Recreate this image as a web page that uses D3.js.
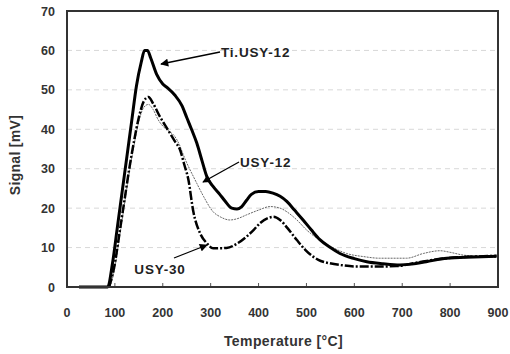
<!DOCTYPE html>
<html><head><meta charset="utf-8">
<script src="https://cdn.jsdelivr.net/npm/d3@7"></script>
<style>body{margin:0;background:#fff}svg{display:block}text{font-family:Arial,"Liberation Sans",sans-serif}</style>
</head><body><svg id="c" width="510" height="354"></svg>
<script>
const xTicks = [0,100,200,300,400,500,600,700,800,900];
const yTicks = [0,10,20,30,40,50,60,70];
const tiUsy12 = [[25,0],[85,0],[95,6],[105,15],[115,24],[125,33],[135,42],[145,51],[155,57],[162,60],[168,60],[175,58],[187,54],[200,51.5],[210,50.5],[225,48.7],[240,46],[250,43],[260,40],[271,36.5],[282,32],[292,28],[305,25.5],[319,23.5],[330,21.8],[344,20],[355,19.8],[365,20.4],[375,22],[385,23.5],[400,24.2],[415,24.2],[430,23.8],[445,23],[459,21.7],[475,19.5],[493,17],[510,14.5],[528,12],[550,10],[570,8.5],[600,7.2],[626,6.4],[660,5.9],[695,5.6],[720,5.8],[750,6.4],[793,7.3],[850,7.6],[897,7.8]];
const usy12 = [[90,0],[100,5],[110,13],[120,21],[130,29],[140,36],[150,42],[160,45.5],[170,46.3],[180,45],[190,42.5],[201,40.7],[213,39.5],[225,38.2],[235,36],[243,33.5],[250,31.5],[257,29.7],[264,28],[271,26.3],[285,23],[305,19.1],[320,17.8],[340,17],[355,17.3],[375,18.3],[400,19.5],[424,20.4],[445,20],[460,19],[480,17],[500,14.5],[528,11.9],[555,10],[584,8.5],[620,7.7],[653,7.3],[709,7.3],[744,8.5],[779,9.2],[800,8.8],[827,8.1],[860,7.8],[897,7.5]];
const usy30 = [[88,0],[100,6],[110,14],[120,22],[130,30],[140,37],[150,43],[160,47],[170,48.2],[180,46.5],[194,43.2],[205,41],[215,39],[225,37],[236,34.8],[245,31],[253,27.5],[264,19],[278,13.6],[292,11.1],[305,9.8],[333,9.9],[355,11],[375,12.8],[390,14.5],[403,16.2],[420,17.5],[431,17.8],[445,17],[460,15],[480,11.9],[497,9.5],[514,7.7],[530,6.6],[549,6],[575,5.5],[605,5.2],[650,5.2],[688,5.3],[723,6],[760,6.8],[793,7.3],[850,7.7],[897,7.9]];
const labels = ["Ti.USY-12","USY-12","USY-30"];

const svg = d3.select("#c");
const L=67,R=498,T=11,B=287;
const x = d3.scaleLinear().domain([0,900]).range([L,R]);
const y = d3.scaleLinear().domain([0,70]).range([B,T]);

svg.append("defs").append("marker").attr("id","ah").attr("viewBox","0 0 10 10")
  .attr("refX",9).attr("refY",5).attr("markerWidth",10).attr("markerHeight",8).attr("orient","auto")
  .attr("markerUnits","userSpaceOnUse")
  .append("path").attr("d","M0,0L10,5L0,10z").attr("fill","#000");

svg.append("g").selectAll("line").data(yTicks.filter(v=>v>0&&v<70)).join("line")
  .attr("x1",L).attr("x2",R).attr("y1",d=>y(d)).attr("y2",d=>y(d))
  .attr("stroke","#d8d8d8").attr("stroke-width",1).attr("stroke-dasharray","5,4");

svg.append("g").selectAll("line").data(xTicks.filter(v=>v>0&&v<900)).join("line")
  .attr("x1",d=>x(d)).attr("x2",d=>x(d)).attr("y1",B).attr("y2",B-4)
  .attr("stroke","#555").attr("stroke-width",1);

const line = d3.line().x(d=>x(d[0])).y(d=>y(d[1])).curve(d3.curveMonotoneX);
svg.append("path").datum(usy12).attr("d",line).attr("fill","none").attr("stroke","#666").attr("stroke-width",1).attr("stroke-dasharray","2,1");
svg.append("path").datum(usy30).attr("d",line).attr("fill","none").attr("stroke","#000").attr("stroke-width",2.5).attr("stroke-dasharray","9,2,2,2");
svg.append("path").datum(tiUsy12).attr("d",line).attr("fill","none").attr("stroke","#000").attr("stroke-width",3);

svg.append("rect").attr("x",L).attr("y",T).attr("width",R-L).attr("height",B-T)
  .attr("fill","none").attr("stroke","#333").attr("stroke-width",2);

svg.append("g").selectAll("text").data(xTicks).join("text")
  .attr("x",d=>x(d)).attr("y",317).attr("text-anchor","middle")
  .attr("font-size",12.5).attr("font-weight","bold").attr("fill","#333").text(d=>d);
svg.append("g").selectAll("text").data(yTicks).join("text")
  .attr("x",55).attr("y",d=>y(d)+4.5).attr("text-anchor","end")
  .attr("font-size",12.5).attr("font-weight","bold").attr("fill","#333").text(d=>d);

svg.append("text").attr("x",(L+R)/2+1).attr("y",346).attr("text-anchor","middle")
  .attr("font-size",14).attr("letter-spacing",0.4).attr("font-weight","bold").attr("fill","#333").text("Temperature [°C]");
svg.append("text").attr("transform",`translate(20,155) rotate(-90)`).attr("text-anchor","middle")
  .attr("font-size",14).attr("letter-spacing",0.3).attr("font-weight","bold").attr("fill","#333").text("Signal [mV]");

const ann = [
  {t:labels[0], tx:221, ty:57, ax:[220,52], ah:[161,64], anchor:"start"},
  {t:labels[1], tx:240, ty:167, ax:[239,162], ah:[203,182], anchor:"start"},
  {t:labels[2], tx:160, ty:274, ax:[174,258], ah:[207,245], anchor:"middle"}
];
ann.forEach(a=>{
  svg.append("line").attr("x1",a.ax[0]).attr("y1",a.ax[1]).attr("x2",a.ah[0]).attr("y2",a.ah[1])
    .attr("stroke","#000").attr("stroke-width",1.3).attr("marker-end","url(#ah)");
  svg.append("text").attr("x",a.tx).attr("y",a.ty).attr("text-anchor",a.anchor)
    .attr("font-size",13.5).attr("letter-spacing",0.8).attr("font-weight","bold").attr("fill","#222").text(a.t);
});
</script></body></html>
